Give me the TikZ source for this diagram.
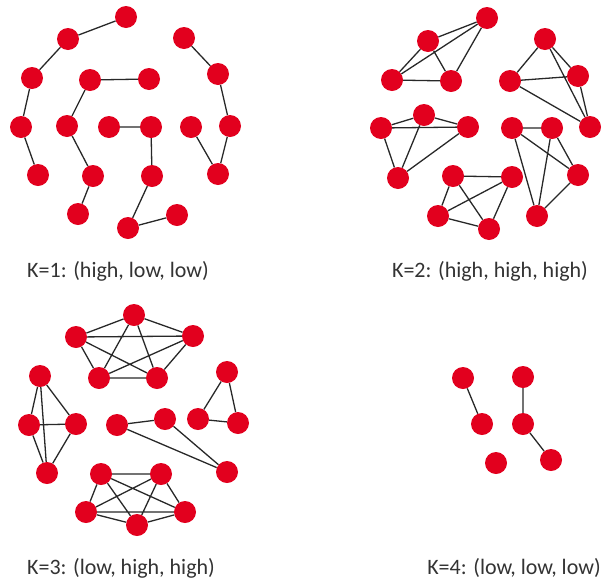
\documentclass[tikz,border=0pt]{standalone}
\usepackage{fontspec}
\setmainfont{Carlito}
\definecolor{nodered}{RGB}{226,0,30}
\definecolor{edgegray}{RGB}{40,40,40}
\tikzset{
  vtx/.style={circle,fill=nodered,draw=none,minimum size=22pt,inner sep=0pt},
  edg/.style={draw=edgegray,line width=1.3pt},
  lbl/.style={font=\fontsize{22}{25}\selectfont,text=black!80,inner sep=0pt}
}
\begin{document}
\begin{tikzpicture}[x=1pt,y=-1pt]
\useasboundingbox (0,0) rectangle (608,587);
% ---------- K=1 ----------
\node[vtx] (A) at (126,17) {};
\node[vtx] (B) at (68,39) {};
\node[vtx] (C) at (32,78) {};
\node[vtx] (D) at (21,127) {};
\node[vtx] (E) at (38,175) {};
\node[vtx] (F) at (90,80) {};
\node[vtx] (G) at (149,79) {};
\node[vtx] (H) at (67,126) {};
\node[vtx] (I) at (93,176) {};
\node[vtx] (J) at (78,214) {};
\node[vtx] (K) at (109,127) {};
\node[vtx] (L) at (151,127) {};
\node[vtx] (M) at (152,176) {};
\node[vtx] (N) at (128,228) {};
\node[vtx] (O) at (177,215) {};
\node[vtx] (P) at (184,38) {};
\node[vtx] (Q) at (218,74) {};
\node[vtx] (R) at (230,126) {};
\node[vtx] (S) at (191,127) {};
\node[vtx] (T) at (218,174) {};
\draw[edg] (A)--(B) (B)--(C) (C)--(D) (D)--(E);
\draw[edg] (F)--(G) (F)--(H) (H)--(I) (I)--(J);
\draw[edg] (K)--(L) (L)--(M) (M)--(N) (N)--(O);
\draw[edg] (P)--(Q) (Q)--(R) (R)--(T) (S)--(T);
\node[lbl] (L1) at (118,271) {K=1: (high, low, low)};
% ---------- K=2 ----------
\node[vtx] (a1) at (487,18) {};
\node[vtx] (a2) at (428,41) {};
\node[vtx] (a3) at (392,80) {};
\node[vtx] (a4) at (451,81) {};
\draw[edg] (a1)--(a2) (a1)--(a3) (a1)--(a4) (a2)--(a3) (a2)--(a4) (a3)--(a4);
\node[vtx] (b1) at (545,39) {};
\node[vtx] (b2) at (510,81) {};
\node[vtx] (b3) at (578,76) {};
\node[vtx] (b4) at (590,127) {};
\draw[edg] (b1)--(b2) (b1)--(b3) (b1)--(b4) (b2)--(b3) (b2)--(b4) (b3)--(b4);
\node[vtx] (c1) at (381,128) {};
\node[vtx] (c2) at (424,115) {};
\node[vtx] (c3) at (468,127) {};
\node[vtx] (c4) at (398,178) {};
\draw[edg] (c1)--(c2) (c1)--(c3) (c1)--(c4) (c2)--(c3) (c2)--(c4) (c3)--(c4);
\node[vtx] (d1) at (512,128) {};
\node[vtx] (d2) at (552,128) {};
\node[vtx] (d3) at (578,175) {};
\node[vtx] (d4) at (537,216) {};
\draw[edg] (d1)--(d2) (d1)--(d3) (d1)--(d4) (d2)--(d3) (d2)--(d4) (d3)--(d4);
\node[vtx] (e1) at (453,176) {};
\node[vtx] (e2) at (512,177) {};
\node[vtx] (e3) at (438,216) {};
\node[vtx] (e4) at (489,229) {};
\draw[edg] (e1)--(e2) (e1)--(e3) (e1)--(e4) (e2)--(e3) (e2)--(e4) (e3)--(e4);
\node[lbl] (L2) at (490,271) {K=2: (high, high, high)};
% ---------- K=3 ----------
\node[vtx] (p1) at (134,315) {};
\node[vtx] (p2) at (76,337) {};
\node[vtx] (p3) at (193,336) {};
\node[vtx] (p4) at (99,378) {};
\node[vtx] (p5) at (157,378) {};
\draw[edg] (p1)--(p2) (p1)--(p3) (p1)--(p4) (p1)--(p5) (p2)--(p3) (p2)--(p4) (p2)--(p5) (p3)--(p4) (p3)--(p5) (p4)--(p5);
\node[vtx] (q1) at (40,376) {};
\node[vtx] (q2) at (29,425) {};
\node[vtx] (q3) at (76,424) {};
\node[vtx] (q4) at (47,473) {};
\draw[edg] (q1)--(q2) (q1)--(q3) (q1)--(q4) (q2)--(q3) (q2)--(q4) (q3)--(q4);
\node[vtx] (t1) at (227,372) {};
\node[vtx] (t2) at (198,419) {};
\node[vtx] (t3) at (238,423) {};
\draw[edg] (t1)--(t2) (t1)--(t3) (t2)--(t3);
\node[vtx] (m1) at (117,425) {};
\node[vtx] (m2) at (165,419) {};
\node[vtx] (m3) at (227,472) {};
\draw[edg] (m1)--(m2) (m1)--(m3) (m2)--(m3);
\node[vtx] (r1) at (101,474) {};
\node[vtx] (r2) at (161,474) {};
\node[vtx] (r3) at (86,512) {};
\node[vtx] (r4) at (137,525) {};
\node[vtx] (r5) at (185,512) {};
\draw[edg] (r1)--(r2) (r1)--(r3) (r1)--(r4) (r1)--(r5) (r2)--(r3) (r2)--(r4) (r2)--(r5) (r3)--(r4) (r3)--(r5) (r4)--(r5);
\node[lbl] (L3) at (121,568) {K=3: (low, high, high)};
% ---------- K=4 ----------
\node[vtx] (u1) at (463,378) {};
\node[vtx] (u2) at (482,424) {};
\node[vtx] (u3) at (523,377) {};
\node[vtx] (u4) at (523,424) {};
\node[vtx] (u5) at (496,463) {};
\node[vtx] (u6) at (551,460) {};
\draw[edg] (u1)--(u2) (u3)--(u4) (u4)--(u6);
\node[lbl] (L4) at (514,568) {K=4: (low, low, low)};
\end{tikzpicture}
\end{document}
